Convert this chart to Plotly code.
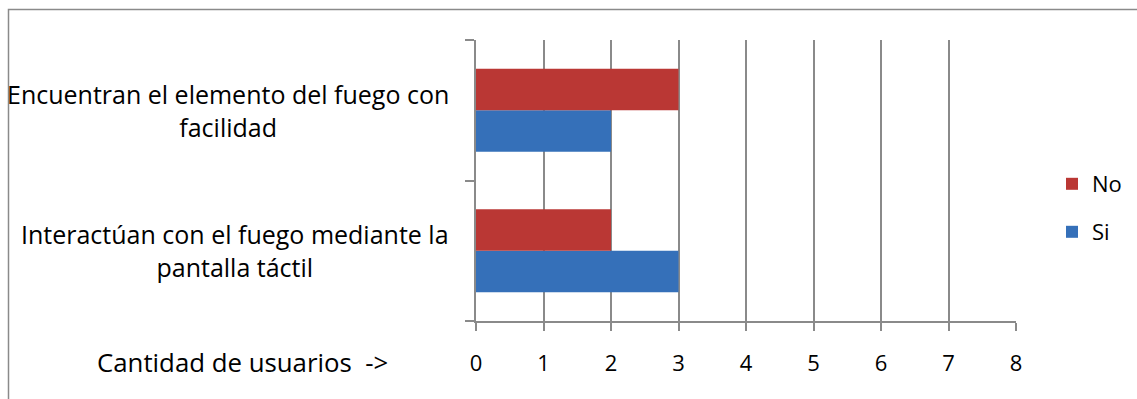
import plotly.graph_objects as go

# Survey results: number of users per statement
categories = [
    "Interactúan con el fuego mediante la<br>pantalla táctil",
    "Encuentran el elemento del fuego con<br>facilidad",
]
si_values = [3, 2]
no_values = [2, 3]
x_ticks = [0, 1, 2, 3, 4, 5, 6, 7, 8]
axis_label = "Cantidad de usuarios  ->"

FONT = "Open Sans, Calibri, sans-serif"
GRID = "#8a8a8a"
RED = "#ba3734"
BLUE = "#3570b9"

W, H = 1137, 399
L, R, T, B = 476, 121, 40, 78
plot_w = W - L - R
plot_h = H - T - B


def px_x(p):
    return (p - L) / plot_w


def px_y(p):
    return (H - B - p) / plot_h


fig = go.Figure()
fig.add_trace(go.Bar(
    y=categories, x=si_values, name="Si", orientation="h",
    marker=dict(color=BLUE, line=dict(width=0)), legend="legend2",
))
fig.add_trace(go.Bar(
    y=categories, x=no_values, name="No", orientation="h",
    marker=dict(color=RED, line=dict(width=0)), legend="legend",
))

# Category labels, centred on two lines, right-aligned to the axis
for cat in categories:
    fig.add_annotation(
        x=px_x(451), xref="paper", xanchor="right",
        y=cat, yref="y", yanchor="middle",
        text=cat, align="center", showarrow=False,
        font=dict(family=FONT, size=25, color="#000"),
    )

fig.add_annotation(
    x=px_x(390), xref="paper", xanchor="right",
    y=px_y(362), yref="paper", yanchor="middle",
    text=axis_label, showarrow=False,
    font=dict(family=FONT, size=25.8, color="#000"),
)

# Outer chart border
fig.add_shape(
    type="rect", xref="paper", yref="paper",
    x0=px_x(8.5), x1=px_x(1145), y0=px_y(9.5), y1=px_y(410),
    line=dict(color=GRID, width=1.5), fillcolor="rgba(0,0,0,0)", layer="below",
)

fig.update_layout(
    width=W, height=H,
    margin=dict(l=L, r=R, t=T, b=B, autoexpand=False),
    paper_bgcolor="white", plot_bgcolor="white",
    showlegend=True,
    barmode="group", bargap=0.41, bargroupgap=0,
    font=dict(family=FONT, size=22, color="#000"),
    legend=dict(
        x=px_x(1052), y=px_y(184), xanchor="left", yanchor="middle",
        font=dict(family=FONT, size=22), bgcolor="rgba(0,0,0,0)",
        itemwidth=30,
    ),
    legend2=dict(
        x=px_x(1052), y=px_y(232), xanchor="left", yanchor="middle",
        font=dict(family=FONT, size=22), bgcolor="rgba(0,0,0,0)",
        itemwidth=30,
    ),
    xaxis=dict(
        range=[0, 8], tickvals=x_ticks, showgrid=True, gridcolor=GRID, gridwidth=1.8,
        zeroline=False, showline=True, linecolor=GRID, linewidth=1.8,
        ticks="outside", ticklen=8, tickwidth=1.8, tickcolor=GRID,
        ticklabelstandoff=14, tickfont=dict(family=FONT, size=22),
    ),
    yaxis=dict(
        range=[-0.5, 1.5], showgrid=False, showticklabels=False,
        showline=True, linecolor=GRID, linewidth=1.8,
        tickson="boundaries", ticks="outside", ticklen=9, tickwidth=1.8, tickcolor=GRID,
    ),
)

fig.write_html("out.html")
